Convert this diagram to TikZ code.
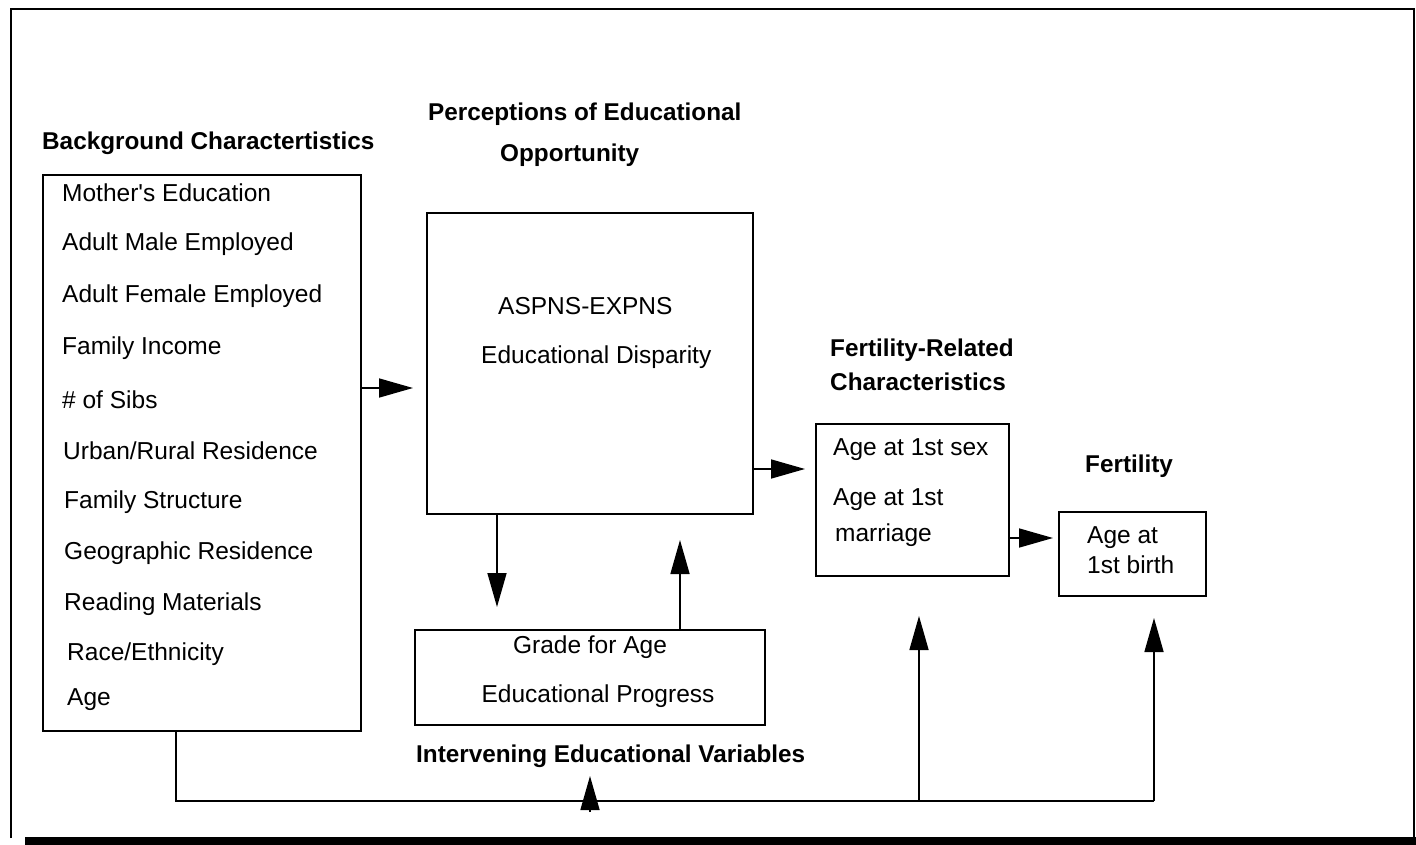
\documentclass[tikz,border=0pt]{standalone}
\usepackage{fontspec}
% plain family without TeX ligature mapping, so ' stays a straight quote
\newfontfamily\arial{Liberation Sans}
\usetikzlibrary{arrows.meta}
\begin{document}
\begin{tikzpicture}[x=1pt,y=-1pt,
  box/.style={draw, line width=1.6pt, anchor=north west, inner sep=0pt, outer sep=0pt},
  lbl/.style={font=\arial\fontsize{24.5}{28}\selectfont, anchor=west, inner sep=0pt},
  clbl/.style={font=\arial\fontsize{24.5}{28}\selectfont, inner sep=0pt},
  head/.style={font=\arial\bfseries\fontsize{24.3}{28}\selectfont, anchor=west, inner sep=0pt},
  link/.style={line width=1.6pt},
  arr/.style={line width=1.6pt, -{Triangle[length=34pt,width=19pt]}}]
\useasboundingbox (0,0) rectangle (1416,845);

% outer frame and heavy bottom rule
\draw[line width=1.4pt] (11,838) -- (11,9) -- (1414,9) -- (1414,838);
\fill (25,837) rectangle (1416,845);

% boxes
\node (bg)   [box, minimum width=318, minimum height=556] at (43,175) {};
\node (perc) [box, minimum width=326, minimum height=301] at (427,213) {};
\node (frc)  [box, minimum width=193, minimum height=152] at (816,424) {};
\node (fert) [box, minimum width=147, minimum height=84]  at (1059,512) {};
\node (inter)[box, minimum width=350, minimum height=95]  at (415,630) {};

% headings
\node (hbg)  [head] at (42,143) {Background Charactertistics};
\node (hp1)  [head] at (428,114) {Perceptions of Educational};
\node (hp2)  [head] at (500,155) {Opportunity};
\node (hfr1) [head] at (830,350) {Fertility-Related};
\node (hfr2) [head] at (830,382) {Characteristics};
\node (hf)   [head] at (1085,466) {Fertility};
\node (hint) [head] at (416,756) {Intervening Educational Variables};

% background characteristics
\node (b1)  [lbl] at (62,193) {Mother's Education};
\node (b2)  [lbl] at (62,244) {Adult Male Employed};
\node (b3)  [lbl] at (62,296) {Adult Female Employed};
\node (b4)  [lbl] at (62,348) {Family Income};
\node (b5)  [lbl] at (62,400) {\# of Sibs};
\node (b6)  [lbl] at (63,451) {Urban/Rural Residence};
\node (b7)  [lbl] at (64,502) {Family Structure};
\node (b8)  [lbl] at (64,553) {Geographic Residence};
\node (b9)  [lbl] at (64,604) {Reading Materials};
\node (b10) [lbl] at (67,654) {Race/Ethnicity};
\node (b11) [lbl] at (67,700) {Age};

% perceptions
\node (p1) [lbl] at (498,306) {ASPNS-EXPNS};
\node (p2) [lbl] at (481,357) {Educational Disparity};

% fertility-related
\node (f1) [lbl] at (833,450) {Age at 1st sex};
\node (f2) [lbl] at (833,500) {Age at 1st};
\node (f3) [lbl] at (835,535) {marriage};

% fertility
\node (g1) [lbl] at (1087,538) {Age at};
\node (g2) [lbl] at (1087,565) {1st birth};

% intervening
\node (i1) [clbl] at (590,647) {Grade for Age};
\node (i2) [clbl] at (598,696) {Educational Progress};

% arrow tips and corners
\coordinate (tBP) at (413,388);
\coordinate (tPF) at (805,469);
\coordinate (tFF) at (1053,538);
\coordinate (tPI) at (497,607);
\coordinate (tIP) at (680,540);
\coordinate (tFR) at (919,616);
\coordinate (tFE) at (1154,618);
\coordinate (tIV) at (590,776);
\coordinate (cL)  at (176,801);
\coordinate (cR)  at (1154,801);
\coordinate (cA)  at (590,812);

% connectors
\draw[arr] (bg.east |- tBP) -- (tBP);
\draw[arr] (perc.east |- tPF) -- (tPF);
\draw[arr] (frc.east |- tFF) -- (tFF);
\draw[arr] (perc.south -| tPI) -- (tPI);
\draw[arr] (inter.north -| tIP) -- (tIP);
\draw[link] (bg.south -| cL) -- (cL) -- (cR);
\draw[arr] (cR) -- (tFE);
\draw[arr] (tFR |- cR) -- (tFR);
\draw[arr] (cA) -- (tIV);
\end{tikzpicture}
\end{document}
